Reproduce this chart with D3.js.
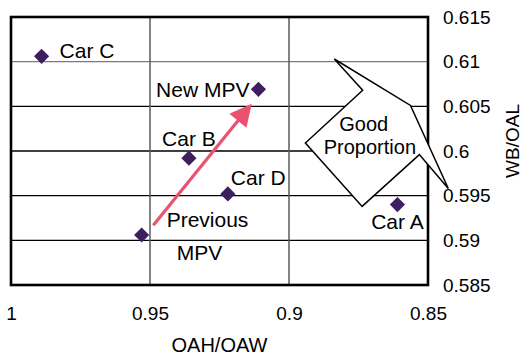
<!DOCTYPE html>
<html>
<head>
<meta charset="utf-8">
<script src="https://cdn.jsdelivr.net/npm/d3@7"></script>
<style>
  body { margin: 0; background: #fff; }
  text { font-family: "Liberation Sans", Arial, sans-serif; fill: #000; }
</style>
</head>
<body>
<script>
// chart values
var cars = ['Car A', 'Car B', 'Car C', 'Car D', 'Previous MPV', 'New MPV'];
var oahOaw = [0.861, 0.936, 0.989, 0.922, 0.953, 0.911];
var wbOal = [0.594, 0.5992, 0.6106, 0.5952, 0.5906, 0.6069];
var xTicks = [1, 0.95, 0.9, 0.85];
var yTicks = [0.585, 0.59, 0.595, 0.6, 0.605, 0.61, 0.615];

// annotation: arrow from previous to new model, callout bubble
var arrowFrom = [0.9488, 0.5917], arrowTo = [0.9134, 0.6053];
var calloutShape = [[0.8837, 0.6103], [0.8563, 0.6051], [0.8427, 0.5958], [0.8531, 0.5996],
  [0.8737, 0.5938], [0.8941, 0.6009], [0.8735, 0.6068]];
var calloutText = [['Good', 0.8731, 0.6022], ['Proportion', 0.8709, 0.5997]];

// label placement around each marker
var labelPos = {
  'Car A': [{ t: 'Car A', dx: 0, dy: 24, a: 'middle' }],
  'Car B': [{ t: 'Car B', dx: 0, dy: -12, a: 'middle' }],
  'Car C': [{ t: 'Car C', dx: 18, dy: 2, a: 'start' }],
  'Car D': [{ t: 'Car D', dx: 3, dy: -9, a: 'start' }],
  'Previous MPV': [{ t: 'Previous', dx: 25, dy: -8, a: 'start' }, { t: 'MPV', dx: 35, dy: 25, a: 'start' }],
  'New MPV': [{ t: 'New MPV', dx: -9, dy: 8, a: 'end' }]
};

var margin = { top: 17, right: 96, bottom: 72, left: 11 },
  width = 524 - margin.left - margin.right,
  height = 357 - margin.top - margin.bottom;

var x = d3.scaleLinear().domain([1, 0.85]).range([0, width]);
var y = d3.scaleLinear().domain([0.585, 0.615]).range([height, 0]);

var svg = d3.select('body').append('svg')
  .attr('width', 524)
  .attr('height', 357)
  .append('g')
  .attr('transform', 'translate(' + margin.left + ',' + margin.top + ')');

// grid
svg.selectAll('.hgrid')
  .data(yTicks.slice(1, -1))
  .enter().append('line')
  .attr('x1', 0).attr('x2', width)
  .attr('y1', function (d) { return y(d); })
  .attr('y2', function (d) { return y(d); })
  .attr('stroke', function (d) { return d === 0.61 ? '#7a7a7a' : '#000'; })
  .attr('stroke-width', 1.3);

svg.selectAll('.vgrid')
  .data(xTicks.slice(1, -1))
  .enter().append('line')
  .attr('y1', 0).attr('y2', height)
  .attr('x1', function (d) { return x(d); })
  .attr('x2', function (d) { return x(d); })
  .attr('stroke', '#5a5a5a')
  .attr('stroke-width', 1.5);

// frame
svg.append('rect')
  .attr('width', width).attr('height', height)
  .attr('fill', 'none').attr('stroke', '#000').attr('stroke-width', 2.6);

// axes
var xAxis = d3.axisBottom(x).tickValues(xTicks).tickSize(0).tickPadding(22)
  .tickFormat(function (d) { return String(d); });
var yAxis = d3.axisRight(y).tickValues(yTicks).tickSize(0).tickPadding(15)
  .tickFormat(function (d) { return String(d); });

var gx = svg.append('g').attr('transform', 'translate(0,' + height + ')').call(xAxis);
var gy = svg.append('g').attr('transform', 'translate(' + width + ',0)').call(yAxis);
[gx, gy].forEach(function (g) {
  g.select('.domain').remove();
  g.selectAll('text').style('font-size', '19px').style('font-family', '"Liberation Sans", Arial, sans-serif').attr('fill', '#000');
});

svg.append('text')
  .attr('x', width / 2).attr('y', height + 67)
  .attr('text-anchor', 'middle')
  .style('font-size', '20px')
  .text('OAH/OAW');

svg.append('text')
  .attr('transform', 'translate(' + (width + 91) + ',' + (height / 2 - 10) + ') rotate(-90)')
  .attr('text-anchor', 'middle')
  .style('font-size', '19px')
  .text('WB/OAL');

// callout
svg.append('path')
  .attr('d', d3.line().x(function (d) { return x(d[0]); }).y(function (d) { return y(d[1]); })(calloutShape) + 'Z')
  .attr('fill', '#fff').attr('stroke', '#000').attr('stroke-width', 1.5)
  .attr('stroke-linejoin', 'miter');

svg.selectAll('.callout-text')
  .data(calloutText)
  .enter().append('text')
  .attr('x', function (d) { return x(d[1]); })
  .attr('y', function (d) { return y(d[2]); })
  .attr('text-anchor', 'middle')
  .style('font-size', '20px')
  .text(function (d) { return d[0]; });

// arrow
var ax0 = x(arrowFrom[0]), ay0 = y(arrowFrom[1]), ax1 = x(arrowTo[0]), ay1 = y(arrowTo[1]);
var ang = Math.atan2(ay1 - ay0, ax1 - ax0), headLen = 22, headW = 11;
var bx = ax1 - headLen * Math.cos(ang), by = ay1 - headLen * Math.sin(ang);
svg.append('line')
  .attr('x1', ax0).attr('y1', ay0).attr('x2', bx + 2 * Math.cos(ang)).attr('y2', by + 2 * Math.sin(ang))
  .attr('stroke', '#ea5270').attr('stroke-width', 3.2);
svg.append('path')
  .attr('d', 'M' + ax1 + ',' + ay1 +
    'L' + (bx - headW * Math.sin(ang)) + ',' + (by + headW * Math.cos(ang)) +
    'L' + (bx + headW * Math.sin(ang)) + ',' + (by - headW * Math.cos(ang)) + 'Z')
  .attr('fill', '#ea5270');

// markers
var pts = cars.map(function (c, i) { return { name: c, vx: oahOaw[i], vy: wbOal[i] }; });

svg.selectAll('.pt')
  .data(pts)
  .enter().append('path')
  .attr('class', 'pt')
  .attr('d', d3.symbol().type(d3.symbolSquare).size(115))
  .attr('transform', function (d) { return 'translate(' + x(d.vx) + ',' + y(d.vy) + ') rotate(45)'; })
  .attr('fill', '#3c1f5e');

pts.forEach(function (d) {
  labelPos[d.name].forEach(function (l) {
    svg.append('text')
      .attr('x', x(d.vx) + l.dx)
      .attr('y', y(d.vy) + l.dy)
      .attr('text-anchor', l.a)
      .style('font-size', '21px')
      .text(l.t);
  });
});
</script>
</body>
</html>
